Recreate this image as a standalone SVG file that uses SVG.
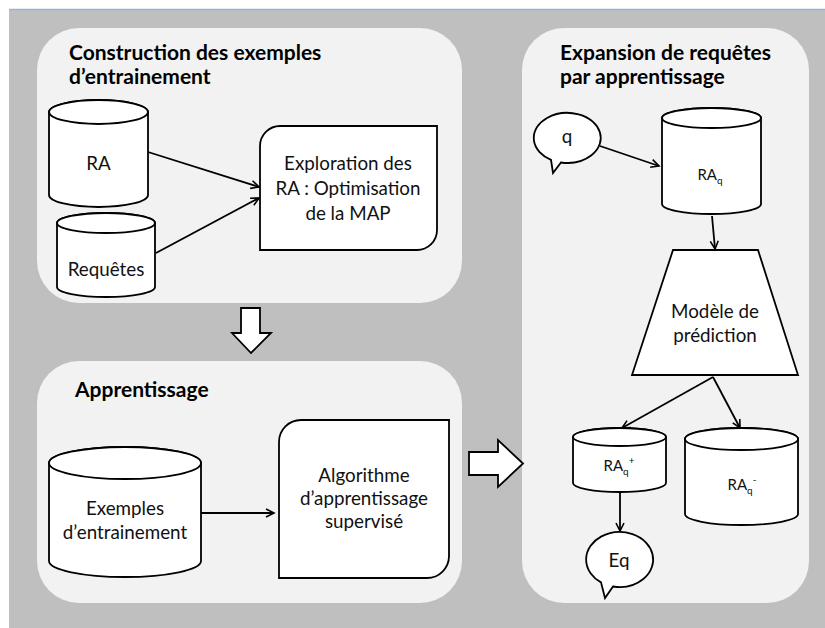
<svg xmlns="http://www.w3.org/2000/svg" width="825" height="628" viewBox="0 0 825 628">
<defs>
<marker id="ah" markerUnits="userSpaceOnUse" markerWidth="12" markerHeight="12" refX="9" refY="5" orient="auto">
<path d="M1,1 L9,5 L1,9" fill="none" stroke="#000" stroke-width="1.6"/>
</marker>
</defs>
<style>
.panel{fill:#f2f2f2}
.shape{fill:#fff;stroke:#000;stroke-width:1.8}
.conn{fill:none;stroke:#000;stroke-width:1.8}
.title{font-family:Lato,"Liberation Sans",sans-serif;font-weight:bold;font-size:21px;fill:#000}
.lbl{font-family:Lato,"Liberation Sans",sans-serif;font-size:18.8px;fill:#111;text-anchor:middle}
.sm{font-family:Lato,"Liberation Sans",sans-serif;font-size:15px;fill:#111;text-anchor:middle}
</style>
<rect x="0" y="0" width="825" height="628" fill="#fff"/>
<rect x="9" y="10" width="816" height="618" fill="#bfbfbf"/>
<line x1="9" y1="9.5" x2="825" y2="9.5" stroke="#95b3d7" stroke-width="1.5"/>

<g id="panel-construction">
<rect class="panel" x="37" y="28" width="425" height="275" rx="42" ry="42"/>
<text class="title" x="69" y="60">Construction des exemples</text>
<text class="title" x="69" y="84">d’entrainement</text>
</g>
<g id="panel-apprentissage">
<rect class="panel" x="37" y="361" width="425" height="242" rx="42" ry="42"/>
<text class="title" x="75" y="397">Apprentissage</text>
</g>
<g id="panel-expansion">
<rect class="panel" x="522" y="28" width="287" height="575" rx="42" ry="42"/>
<text class="title" x="560" y="60">Expansion de requêtes</text>
<text class="title" x="560" y="84">par apprentissage</text>
</g>

<g id="connectors">
<line class="conn" x1="148" y1="152" x2="259" y2="187" marker-end="url(#ah)"/>
<line class="conn" x1="156" y1="253" x2="259" y2="198" marker-end="url(#ah)"/>
<line class="conn" x1="201" y1="513" x2="274" y2="513" marker-end="url(#ah)"/>
<line class="conn" x1="600" y1="146" x2="659" y2="166" marker-end="url(#ah)"/>
<line class="conn" x1="712" y1="216" x2="715" y2="249" marker-end="url(#ah)"/>
<line class="conn" x1="713" y1="377" x2="622" y2="428" marker-end="url(#ah)"/>
<line class="conn" x1="713" y1="377" x2="740" y2="428" marker-end="url(#ah)"/>
<line class="conn" x1="620" y1="492" x2="620" y2="531" marker-end="url(#ah)"/>
<polygon class="shape" points="241,308 260,308 260,333 271,333 251,353 232,333 241,333"/>
<polygon class="shape" points="469,452 498,452 498,440 523,463.5 498,487 498,475 469,475"/>
</g>

<g id="node-ra">
<path class="shape" d="M49,112 A49.5,12 0 0 1 148,112 V195 A49.5,12 0 0 1 49,195 Z"/>
<ellipse class="shape" cx="98.5" cy="112" rx="49.5" ry="12"/>
<text class="lbl" x="98.5" y="170">RA</text>
</g>
<g id="node-requetes">
<path class="shape" d="M57,223 A49,10 0 0 1 155,223 V287 A49,10 0 0 1 57,287 Z"/>
<ellipse class="shape" cx="106" cy="223" rx="49" ry="10"/>
<text class="lbl" x="106" y="276">Requêtes</text>
</g>
<g id="node-exploration">
<path class="shape" d="M260,146 A20,20 0 0 1 280,126 H437 V230 A20,20 0 0 1 417,250 H260 Z"/>
<text class="lbl" x="348" y="170">Exploration des</text>
<text class="lbl" x="348" y="195">RA : Optimisation</text>
<text class="lbl" x="348" y="220">de la MAP</text>
</g>
<g id="node-exemples">
<path class="shape" d="M49,463 A76,16 0 0 1 201,463 V561 A76,16 0 0 1 49,561 Z"/>
<ellipse class="shape" cx="125" cy="463" rx="76" ry="16"/>
<text class="lbl" x="125" y="515">Exemples</text>
<text class="lbl" x="125" y="539">d’entrainement</text>
</g>
<g id="node-algorithme">
<path class="shape" d="M279,442 A22,22 0 0 1 301,420 H449 V556 A22,22 0 0 1 427,578 H279 Z"/>
<text class="lbl" x="364" y="482">Algorithme</text>
<text class="lbl" x="364" y="505">d’apprentissage</text>
<text class="lbl" x="364" y="528">supervisé</text>
</g>
<g id="node-q">
<path class="shape" d="M551,159.8 L553,173 L561,162.5 A33.5,25 0 1 0 551,159.8 Z"/>
<text class="lbl" x="567" y="143">q</text>
</g>
<g id="node-raq">
<path class="shape" d="M662,118 A49.5,10 0 0 1 761,118 V204 A49.5,10 0 0 1 662,204 Z"/>
<ellipse class="shape" cx="711.5" cy="118" rx="49.5" ry="10"/>
<text class="sm" x="710" y="180">RA<tspan font-size="10" dy="4">q</tspan></text>
</g>
<g id="node-modele">
<polygon class="shape" points="673,250 758,250 798,375 632,375"/>
<text class="lbl" x="715" y="318">Modèle de</text>
<text class="lbl" x="715" y="342">prédiction</text>
</g>
<g id="node-raq-plus">
<path class="shape" d="M573,437 A46.5,9 0 0 1 666,437 V483 A46.5,9 0 0 1 573,483 Z"/>
<ellipse class="shape" cx="619.5" cy="437" rx="46.5" ry="9"/>
<text class="sm" x="619" y="471">RA<tspan font-size="10" dy="4">q</tspan><tspan font-size="10" dy="-11">+</tspan></text>
</g>
<g id="node-raq-minus">
<path class="shape" d="M685,439 A56.5,11 0 0 1 798,439 V514 A56.5,11 0 0 1 685,514 Z"/>
<ellipse class="shape" cx="741.5" cy="439" rx="56.5" ry="11"/>
<text class="sm" x="742" y="490">RA<tspan font-size="10" dy="4">q</tspan><tspan font-size="10" dy="-11">-</tspan></text>
</g>
<g id="node-eq">
<path class="shape" d="M601,582.4 L605,598 L613,586.5 A33.5,27.5 0 1 0 601,582.4 Z"/>
<text class="lbl" x="619" y="567">Eq</text>
</g>
</svg>
